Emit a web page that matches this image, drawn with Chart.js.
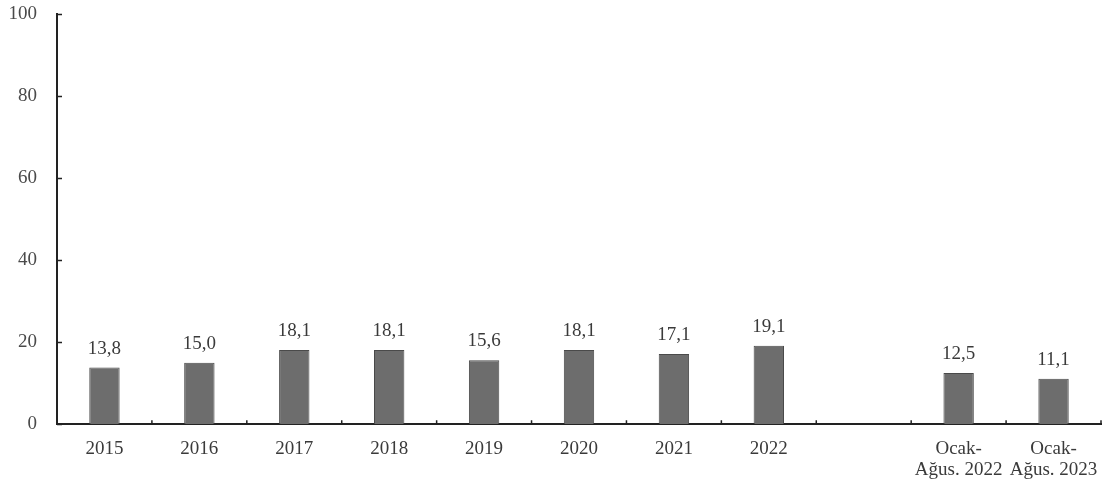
<!DOCTYPE html>
<html lang="tr">
<head>
    <meta charset="UTF-8">
    <title>Oran</title>
    <script src="https://cdn.jsdelivr.net/npm/chart.js"></script>
    <style>
        html, body { margin: 0; padding: 0; background: #fff; }
        #wrap { width: 1106px; height: 488px; }
    </style>
</head>
<body>
    <div id="wrap"><canvas id="chart"></canvas></div>

    <script>
        // Categories (empty slot separates yearly values from Jan-Aug periods)
        const categories = ['2015', '2016', '2017', '2018', '2019', '2020', '2021', '2022', '',
            ['Ocak-', 'Ağus. 2022'], ['Ocak-', 'Ağus. 2023']];
        const values = [13.8, 15.0, 18.1, 18.1, 15.6, 18.1, 17.1, 19.1, null, 12.5, 11.1];
        const yTicks = [0, 20, 40, 60, 80, 100];

        const serif = '"Liberation Serif", "DejaVu Serif", serif';

        // Value labels above bars plus small inner tick marks on both axes
        const decorations = {
            id: 'decorations',
            afterDatasetsDraw(chart) {
                const ctx = chart.ctx;
                const meta = chart.getDatasetMeta(0);
                ctx.save();
                ctx.font = '19px ' + serif;
                ctx.fillStyle = '#3a3a3a';
                ctx.textAlign = 'center';
                ctx.textBaseline = 'alphabetic';
                meta.data.forEach((bar, i) => {
                    const v = values[i];
                    if (v === null) return;
                    ctx.fillText(v.toFixed(1).replace('.', ','), bar.x, bar.y - 14);
                });

                const x = chart.scales.x, y = chart.scales.y;
                ctx.strokeStyle = '#222';
                ctx.lineWidth = 1.5;
                ctx.beginPath();
                yTicks.forEach(t => {
                    const py = Math.round(y.getPixelForValue(t)) + 0.5;
                    ctx.moveTo(x.left, py);
                    ctx.lineTo(x.left + 5, py);
                });
                for (let i = 0; i <= categories.length; i++) {
                    const px = x.left + (x.right - x.left) * i / categories.length;
                    ctx.moveTo(px, y.bottom);
                    ctx.lineTo(px, y.bottom - 4);
                }
                ctx.stroke();
                ctx.restore();
            }
        };

        new Chart(document.getElementById('chart'), {
            type: 'bar',
            data: {
                labels: categories,
                datasets: [{
                    data: values,
                    backgroundColor: '#6d6d6d',
                    borderColor: '#4a4a4a',
                    borderWidth: 1,
                    categoryPercentage: 1,
                    barPercentage: 0.32
                }]
            },
            options: {
                responsive: true,
                maintainAspectRatio: false,
                animation: false,
                layout: { autoPadding: false, padding: { top: 14, right: 5, bottom: -6, left: 0 } },
                plugins: {
                    legend: { display: false },
                    tooltip: { enabled: false }
                },
                scales: {
                    x: {
                        afterFit(scale) {
                            scale.paddingLeft = 0;
                            scale.paddingRight = 0;
                        },
                        grid: { display: false, drawTicks: false },
                        border: { color: '#222', width: 2 },
                        ticks: {
                            color: '#3a3a3a',
                            font: { family: serif, size: 19, lineHeight: 1.1 },
                            padding: 14,
                            maxRotation: 0,
                            autoSkip: false
                        }
                    },
                    y: {
                        min: 0,
                        max: 100,
                        afterFit(scale) {
                            scale.width = 57;
                            scale.paddingTop = 0;
                            scale.paddingBottom = 0;
                        },
                        afterBuildTicks(scale) { scale.ticks = yTicks.map(v => ({ value: v })); },
                        grid: { display: false, drawTicks: false },
                        border: { color: '#222', width: 2 },
                        ticks: {
                            color: '#4a4a4a',
                            font: { family: serif, size: 19 },
                            padding: 20
                        }
                    }
                }
            },
            plugins: [decorations]
        });
    </script>
</body>
</html>
